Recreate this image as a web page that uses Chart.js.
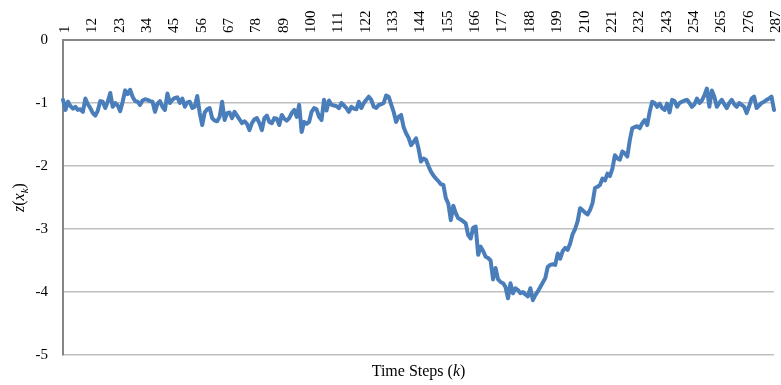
<!DOCTYPE html>
<html>
<head>
<meta charset="utf-8">
<script src="https://cdn.jsdelivr.net/npm/chart.js@4.4.1/dist/chart.umd.min.js"></script>
<style>
  html, body { margin: 0; padding: 0; background: #ffffff; }
  #wrap { width: 781px; height: 385px; position: relative; }
</style>
</head>
<body>
<div id="wrap"><canvas id="c"></canvas></div>
<script>
// Time steps k = 1..287
const steps = [];
for (let k = 1; k <= 287; k++) steps.push(String(k));

// Tick labels shown on the top axis
const tickLabels = ['1','12','23','34','45','56','67','78','89','100','111','122','133','144','155','166','177','188','199','210','221','232','243','254','265','276','287'];

// Y axis ticks
const yTicks = [0, -1, -2, -3, -4, -5];

// z(x_k) values
const zValues = [
 -0.95,-1.11,-0.98,-1.05,-1.09,-1.06,-1.11,-1.10,-1.14,-0.93,
 -1.02,-1.08,-1.16,-1.20,-1.12,-0.97,-0.98,-1.08,-0.98,-0.84,
 -1.06,-1.00,-1.04,-1.13,-0.98,-0.80,-0.86,-0.79,-0.90,-0.97,
 -0.98,-1.03,-0.96,-0.94,-0.95,-0.97,-0.98,-1.14,-1.01,-0.97,
 -1.06,-1.11,-0.85,-1.00,-0.95,-0.92,-0.91,-1.00,-0.93,-1.06,
 -0.99,-0.98,-1.08,-1.06,-0.89,-1.16,-1.35,-1.15,-1.10,-1.08,
 -1.24,-1.28,-1.29,-1.22,-0.98,-1.27,-1.16,-1.15,-1.24,-1.14,
 -1.20,-1.26,-1.32,-1.29,-1.33,-1.43,-1.32,-1.26,-1.24,-1.32,
 -1.43,-1.24,-1.20,-1.30,-1.32,-1.24,-1.25,-1.35,-1.19,-1.25,
 -1.28,-1.24,-1.16,-1.11,-1.22,-1.03,-1.46,-1.30,-1.33,-1.30,
 -1.14,-1.08,-1.10,-1.22,-1.27,-0.95,-1.12,-0.96,-1.03,-1.04,
 -1.05,-1.08,-1.00,-1.04,-1.08,-1.14,-1.06,-1.09,-1.10,-0.98,
 -1.08,-1.00,-0.95,-0.90,-0.95,-1.06,-1.08,-1.03,-1.02,-1.00,
 -0.88,-0.90,-1.02,-1.14,-1.30,-1.22,-1.19,-1.38,-1.48,-1.55,
 -1.67,-1.62,-1.56,-1.72,-1.93,-1.88,-1.90,-2.00,-2.09,-2.15,
 -2.20,-2.24,-2.29,-2.30,-2.51,-2.60,-2.86,-2.63,-2.75,-2.83,
 -2.85,-2.88,-2.91,-3.10,-3.15,-2.98,-2.96,-3.41,-3.28,-3.35,
 -3.44,-3.46,-3.50,-3.80,-3.62,-3.80,-3.84,-3.86,-3.92,-4.10,
 -3.86,-4.02,-3.94,-3.97,-4.02,-4.00,-4.04,-4.07,-3.94,-4.13,
 -4.05,-3.99,-3.92,-3.85,-3.78,-3.60,-3.57,-3.56,-3.57,-3.39,
 -3.47,-3.35,-3.30,-3.33,-3.23,-3.08,-3.00,-2.88,-2.67,-2.70,
 -2.74,-2.77,-2.70,-2.59,-2.35,-2.33,-2.30,-2.20,-2.23,-2.12,
 -2.16,-2.04,-1.83,-1.88,-1.90,-1.77,-1.80,-1.85,-1.59,-1.40,
 -1.38,-1.37,-1.40,-1.32,-1.27,-1.35,-1.14,-0.98,-1.00,-1.06,
 -1.01,-1.08,-1.11,-1.01,-1.15,-0.95,-0.97,-1.06,-1.00,-0.98,
 -0.96,-0.95,-1.00,-1.06,-1.02,-0.93,-1.00,-0.96,-0.88,-0.77,
 -1.06,-0.80,-0.90,-1.06,-1.00,-0.95,-1.02,-1.08,-1.00,-0.95,
 -1.02,-1.06,-1.00,-1.03,-1.06,-1.16,-1.05,-0.93,-0.90,-1.08,
 -1.04,-1.00,-0.98,-0.95,-0.93,-0.90,-1.11
];

const SERIF = '"Liberation Serif", "DejaVu Serif", serif';

function drawParts(ctx, parts, cx, cy) {
  let total = 0;
  parts.forEach(p => { ctx.font = p.font; p.w = ctx.measureText(p.t).width; total += p.w; });
  let x = cx - total / 2;
  parts.forEach(p => {
    ctx.font = p.font;
    ctx.fillText(p.t, x, cy + (p.dy || 0));
    x += p.w;
  });
}

const axisTitles = {
  id: 'axisTitles',
  afterDraw(chart) {
    const ctx = chart.ctx;
    const a = chart.chartArea;
    ctx.save();
    ctx.fillStyle = '#000';
    ctx.textBaseline = 'alphabetic';
    ctx.textAlign = 'left';
    // X title at bottom
    drawParts(ctx, [
      { t: 'Time Steps (', font: '16px ' + SERIF },
      { t: 'k', font: 'italic 16px ' + SERIF },
      { t: ')', font: '16px ' + SERIF }
    ], (a.left + a.right) / 2, 376);
    // Y title, rotated
    ctx.translate(24, (a.top + a.bottom) / 2);
    ctx.rotate(-Math.PI / 2);
    drawParts(ctx, [
      { t: 'z', font: 'italic 16px ' + SERIF },
      { t: '(', font: '16px ' + SERIF },
      { t: 'x', font: 'italic 16px ' + SERIF },
      { t: 'k', font: 'italic 11px ' + SERIF, dy: 4 },
      { t: ')', font: '16px ' + SERIF }
    ], 0, 0);
    ctx.restore();
  }
};

new Chart(document.getElementById('c'), {
  type: 'line',
  data: {
    labels: steps,
    datasets: [{
      data: zValues,
      borderColor: '#4a7ebb',
      borderWidth: 4,
      pointRadius: 0,
      tension: 0,
      fill: false,
      borderJoinStyle: 'round',
      borderCapStyle: 'round'
    }]
  },
  options: {
    responsive: true,
    maintainAspectRatio: false,
    animation: false,
    layout: { padding: { left: 0, right: 3, top: 0, bottom: 30 } },
    plugins: {
      legend: { display: false },
      tooltip: { enabled: false },
      title: { display: false }
    },
    scales: {
      x: {
        position: 'top',
        offset: false,
        grid: { display: false, drawTicks: false },
        border: { display: true, color: '#868686', width: 2 },
        ticks: {
          autoSkip: false,
          minRotation: 90,
          maxRotation: 90,
          padding: 7,
          labelOffset: 20,
          color: '#000',
          font: { family: SERIF, size: 15 },
          callback: function (val, index) {
            const lab = this.getLabelForValue(val);
            return tickLabels.includes(lab) ? lab : null;
          }
        },
        afterFit: s => { s.height = 40; }
      },
      y: {
        min: -5,
        max: 0,
        afterBuildTicks: s => { s.ticks = yTicks.map(v => ({ value: v })); },
        grid: { color: '#bfbfbf', lineWidth: 1.5, drawTicks: false },
        border: { display: true, color: '#868686', width: 2 },
        ticks: {
          padding: 15,
          color: '#000',
          font: { family: SERIF, size: 15 },
          callback: v => String(v)
        },
        afterFit: s => { s.width = 63; }
      }
    }
  },
  plugins: [axisTitles]
});
</script>
</body>
</html>
